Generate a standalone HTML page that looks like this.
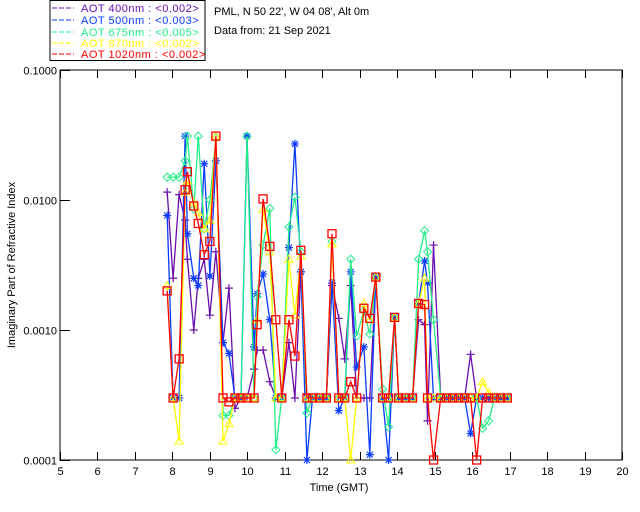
<!DOCTYPE html>
<html><head><meta charset="utf-8"><style>
body{margin:0;background:#fff;}
svg{display:block;font-family:"Liberation Sans","DejaVu Sans",sans-serif;}
</style></head><body>
<svg id="c" width="640" height="512" viewBox="0 0 640 512">
<rect x="50" y="0.5" width="155" height="60" fill="#fff" stroke="#000"/>
<g font-size="11" letter-spacing="0.5">
<g><line x1="52" y1="8" x2="74" y2="8" stroke="#6a0dad" stroke-dasharray="5,2"/><text x="81" y="12" fill="#6a0dad">AOT  400nm : &lt;0.002&gt;</text></g>
<g><line x1="52" y1="20" x2="74" y2="20" stroke="#0a3cff" stroke-dasharray="5,2"/><text x="81" y="24" fill="#0a3cff">AOT  500nm : &lt;0.003&gt;</text></g>
<g><line x1="52" y1="32" x2="74" y2="32" stroke="#22ee88" stroke-dasharray="5,2"/><text x="81" y="36" fill="#22ee88">AOT  675nm : &lt;0.005&gt;</text></g>
<g><line x1="52" y1="43" x2="74" y2="43" stroke="#ffff00" stroke-dasharray="5,2"/><text x="81" y="47" fill="#ffff00">AOT  870nm : &lt;0.002&gt;</text></g>
<g><line x1="52" y1="54" x2="74" y2="54" stroke="#ff0000" stroke-dasharray="5,2"/><text x="81" y="58" fill="#ff0000">AOT 1020nm : &lt;0.002&gt;</text></g>
</g>
<text x="214" y="15" font-size="11">PML, N 50 22', W 04 08', Alt 0m</text>
<text x="214" y="34" font-size="11">Data from: 21 Sep 2021</text>
<g id="axes"></g>
<g id="series"></g>
<text x="339" y="491" font-size="11" text-anchor="middle">Time (GMT)</text>
<text transform="translate(15,265) rotate(-90)" font-size="11" text-anchor="middle">Imaginary Part of Refractive Index</text>
</svg>
<script>
const times=[7.86,8.02,8.18,8.34,8.40,8.57,8.69,8.85,9.00,9.16,9.35,9.51,9.67,9.83,9.99,10.18,10.26,10.42,10.60,10.76,10.92,11.11,11.27,11.43,11.59,11.74,11.93,12.11,12.26,12.44,12.60,12.76,12.92,13.11,13.27,13.43,13.61,13.77,13.93,14.04,14.22,14.41,14.57,14.73,14.81,14.97,15.16,15.32,15.48,15.64,15.80,15.96,16.12,16.28,16.44,16.60,16.76,16.94];
const xTicks=[5,6,7,8,9,10,11,12,13,14,15,16,17,18,19,20];
const yTicks=[0.1,0.01,0.001,0.0001];
const yTickLabels=["0.1000","0.0100","0.0010","0.0001"];
const s400=[0.0115,0.0025,0.011,0.007,0.0035,0.001,0.0025,0.0035,0.0013,0.004,0.0008,0.0021,0.00025,0.0003,0.0003,0.0005,0.0007,0.0007,0.0004,0.0003,0.0003,0.0008,0.0003,0.0028,0.00032,0.0003,0.0003,0.0003,0.0022,0.00123,0.0006,0.0022,0.0003,0.0003,0.0003,0.00255,0.0003,0.0003,0.00125,0.0003,0.0003,0.0003,0.0012,0.0011,0.0002,0.0045,0.0003,0.0003,0.0003,0.0003,0.0003,0.00065,0.0003,0.0003,0.0003,0.0003,0.0003,0.0003];
const s500=[0.0076,0.0003,0.0003,0.031,0.0055,0.0025,0.0022,0.019,0.0026,0.020,0.0008,0.00066,0.0003,0.0003,0.031,0.00074,0.0019,0.0027,0.0012,0.0003,0.0003,0.0043,0.027,0.0028,0.0001,0.0003,0.0003,0.0003,0.0023,0.00024,0.0003,0.0028,0.00052,0.00074,0.00011,0.00255,0.0003,0.0001,0.00125,0.0003,0.0003,0.0003,0.0016,0.0034,0.0023,0.0003,0.0003,0.0003,0.0003,0.0003,0.0003,0.00016,0.0003,0.0003,0.0003,0.0003,0.0003,0.0003];
const s675=[0.015,0.015,0.015,0.020,0.031,0.0085,0.031,0.006,0.010,0.030,0.00022,0.00022,0.0003,0.0003,0.031,0.0003,0.0018,0.0045,0.0086,0.00012,0.0003,0.0062,0.0105,0.004,0.00023,0.0003,0.0003,0.0003,0.0048,0.0003,0.0003,0.0035,0.0009,0.0014,0.00093,0.00255,0.00035,0.00018,0.00125,0.0003,0.0003,0.0003,0.0035,0.0058,0.004,0.0012,0.0003,0.0003,0.0003,0.0003,0.0003,0.0003,0.0003,0.000175,0.0002,0.0003,0.0003,0.0003];
const s870=[0.0022,0.0003,0.00014,0.0115,0.014,0.0095,0.008,0.006,0.007,0.031,0.00014,0.00019,0.0003,0.0003,0.0003,0.0003,0.0012,0.0085,0.004,0.0003,0.0003,0.0035,0.0013,0.0037,0.0003,0.0003,0.0003,0.0003,0.0046,0.0003,0.0003,0.0001,0.0003,0.0016,0.0012,0.00255,0.0003,0.0003,0.00125,0.0003,0.0003,0.0003,0.0016,0.0025,0.0003,0.0003,0.0003,0.0003,0.0003,0.0003,0.0003,0.0003,0.0003,0.0004,0.00033,0.0003,0.0003,0.0003];
const s1020=[0.002,0.0003,0.0006,0.012,0.0165,0.009,0.0066,0.0038,0.0048,0.031,0.0003,0.00028,0.0003,0.0003,0.0003,0.0003,0.0011,0.0102,0.0044,0.0012,0.0003,0.0012,0.00063,0.0041,0.0003,0.0003,0.0003,0.0003,0.0055,0.0003,0.0003,0.0004,0.0003,0.00147,0.00123,0.00255,0.0003,0.0003,0.00125,0.0003,0.0003,0.0003,0.0016,0.00157,0.0003,0.0001,0.0003,0.0003,0.0003,0.0003,0.0003,0.0003,0.0001,0.0003,0.0003,0.0003,0.0003,0.0003];

const NS="http://www.w3.org/2000/svg";
const L=60,R=622,T=70,B=460;
const xs=t=>L+(t-5)*(R-L)/15;
const ys=v=>{const e=Math.log10(Math.max(v,1e-4));return T+(-1-e)*(B-T)/3;};
function mk(tag,attrs,parent){const e=document.createElementNS(NS,tag);for(const k in attrs)e.setAttribute(k,attrs[k]);parent.appendChild(e);return e;}
const ax=document.getElementById('axes');
const frame=mk('rect',{x:L,y:T,width:R-L,height:B-T,fill:'none',stroke:'#000','stroke-width':1},ax);


xTicks.forEach(t=>{
  const x=Math.round(xs(t))+0.5;
  const a=mk('line',{x1:x,y1:B,x2:x,y2:B-8,stroke:'#000'},ax);
  
  
  const b=mk('line',{x1:x,y1:T,x2:x,y2:T+8,stroke:'#000'},ax);
  
  
  const tx=mk('text',{x:x,y:B+15,'font-size':11,'text-anchor':'middle'},ax);
  tx.textContent=t;
  
  
});
yTicks.forEach((v,i)=>{
  const y=Math.round(ys(v))+0.5;
  const a=mk('line',{x1:L,y1:y,x2:L+10,y2:y,stroke:'#000'},ax);
  
  
  const tx=mk('text',{x:L-3,y:y+4,'font-size':11,'text-anchor':'end'},ax);
  tx.textContent=yTickLabels[i];
  
  
});
const sg=document.getElementById('series');
const series=[[s400,'#6a0dad','plus','aot-400'],[s500,'#0a3cff','star','aot-500'],[s675,'#22ee88','diamond','aot-675'],[s870,'#ffff00','tri','aot-870'],[s1020,'#ff0000','square','aot-1020']];
series.forEach(([vals,col,m,name])=>{
  const g=mk('g',{},sg);
  
  
  const pts=times.map((t,i)=>xs(t).toFixed(1)+','+ys(vals[i]).toFixed(1)).join(' ');
  const pl=mk('polyline',{points:pts,fill:'none',stroke:col,'stroke-width':1.3},g);
  
  
  times.forEach((t,i)=>{
    const x=xs(t),y=ys(vals[i]);let e;
    if(m==='plus')e=mk('path',{d:`M${x-4},${y}H${x+4}M${x},${y-4}V${y+4}`,stroke:col,'stroke-width':1.2,fill:'none'},g);
    else if(m==='star')e=mk('path',{d:`M${x-4},${y}H${x+4}M${x},${y-4}V${y+4}M${x-3},${y-3}L${x+3},${y+3}M${x-3},${y+3}L${x+3},${y-3}`,stroke:col,'stroke-width':1.2,fill:'none'},g);
    else if(m==='diamond')e=mk('path',{d:`M${x},${y-4}L${x+4},${y}L${x},${y+4}L${x-4},${y}Z`,stroke:col,fill:'none'},g);
    else if(m==='tri')e=mk('path',{d:`M${x},${y-4}L${x+4},${y+3}L${x-4},${y+3}Z`,stroke:col,fill:'none'},g);
    else e=mk('rect',{x:x-4,y:y-4,width:8,height:8,stroke:col,'stroke-width':1.3,fill:'none'},g);
    
    
  });
});
</script>
</body></html>
